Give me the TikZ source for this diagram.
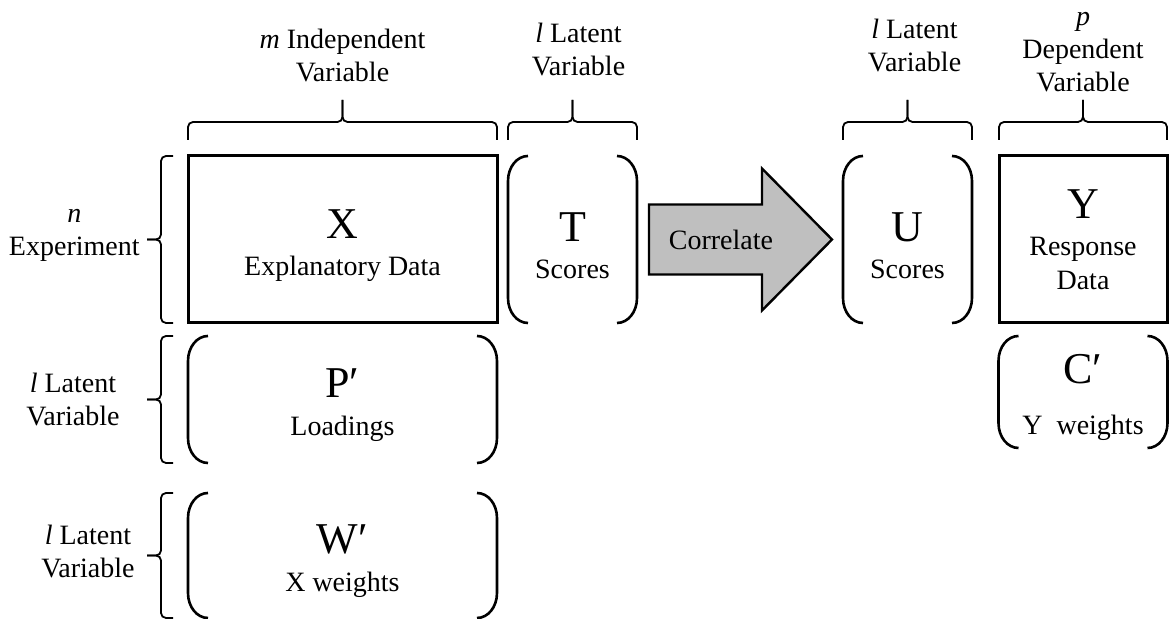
\documentclass[tikz,border=0pt]{standalone}
\usepackage{fontspec}
\setmainfont{Liberation Serif}
\usetikzlibrary{positioning}

\newcommand{\bigfont}{\fontsize{22}{24}\selectfont}
\newcommand{\bigsym}[1]{{\bigfont\rule{0pt}{20.5pt}#1}}

% brace above a block, tip named #2
\newcommand{\topbrace}[2]{%
  \coordinate (#1-bl) at ([yshift=8pt]#1.north west);
  \coordinate (#1-br) at ([yshift=8pt]#1.north east);
  \coordinate (#1-bm) at ([yshift=17pt]#1.north);
  \coordinate (#2) at ([yshift=28pt]#1.north);
  \draw[brc] (#1-bl) |- (#1-bm) -- (#2);
  \draw[brc] (#1-br) |- (#1-bm) -- (#2);
}
% brace left of a block, tip named #2
\newcommand{\leftbrace}[2]{%
  \coordinate (#1-lt) at ([xshift=-7.5pt]#1.north west);
  \coordinate (#1-lb) at ([xshift=-7.5pt]#1.south west);
  \coordinate (#1-lm) at ([xshift=-13.5pt]#1.west);
  \coordinate (#2) at ([xshift=-20.5pt]#1.west);
  \draw[brc] (#1-lt) -| (#1-lm) -- (#2);
  \draw[brc] (#1-lb) -| (#1-lm) -- (#2);
}
% round brackets round a block
\newcommand{\parens}[1]{%
  \draw[paren] ([xshift=10pt]#1.north west) .. controls +(-5.5pt,0) and +(0,7pt) .. ([yshift=-12.5pt]#1.north west)
    -- ([yshift=12.5pt]#1.south west) .. controls +(0,-7pt) and +(-5.5pt,0) .. ([xshift=10pt]#1.south west);
  \draw[paren] ([xshift=-10pt]#1.north east) .. controls +(5.5pt,0) and +(0,7pt) .. ([yshift=-12.5pt]#1.north east)
    -- ([yshift=12.5pt]#1.south east) .. controls +(0,-7pt) and +(5.5pt,0) .. ([xshift=-10pt]#1.south east);
}

\tikzset{
  lbl/.style={font=\fontsize{14}{16.5}\selectfont, align=center, inner sep=1pt},
  mat/.style={font=\fontsize{14}{16.5}\selectfont, align=center, inner sep=0pt, outer sep=0pt},
  solidmat/.style={mat, draw, line width=1.5pt},
  paren/.style={line width=1.3pt},
  brc/.style={line width=0.9pt, rounded corners=2.5pt},
  bigarrow/.style={draw, line width=1.2pt, fill=black!25, line join=miter},
}

\begin{document}
\begin{tikzpicture}[x=0.5pt, y=-0.5pt]
  \useasboundingbox (0,0) rectangle (1169,619);

  % blocks
  \node[solidmat, minimum width=154.5pt, minimum height=83.5pt] (X) at (342.5,239.5) {\bigsym{X}\\[2pt] Explanatory Data};
  \node[mat, minimum width=64.5pt, minimum height=83.5pt, right=5.5pt of X] (T) {\bigsym{T}\\[2pt] Scores};
  \node[mat, minimum width=64.5pt, minimum height=83.5pt, right=103pt of T] (U) {\bigsym{U}\\[2pt] Scores};
  \node[solidmat, minimum width=84pt, minimum height=83.5pt, right=13.5pt of U] (Y) {{\bigfont Y}\\[2pt] Response\\[0.5pt] Data};
  \node[mat, minimum width=154.5pt, minimum height=63.5pt, below=6.5pt of X] (P) {\bigsym{P′}\\[2.5pt] Loadings};
  \node[mat, minimum width=154.5pt, minimum height=62.5pt, below=15pt of P] (W) {\bigsym{W′}\\[2.5pt] X weights};
  \node[mat, minimum width=84.5pt, minimum height=56pt, below=6.5pt of Y] (C) {\bigsym{C′}\\[9pt] Y\ \ weights};

  \parens{T}
  \parens{U}
  \parens{P}
  \parens{W}
  \parens{C}

  % braces
  \topbrace{X}{tX}
  \topbrace{T}{tT}
  \topbrace{U}{tU}
  \topbrace{Y}{tY}
  \leftbrace{X}{tN}
  \leftbrace{P}{tP}
  \leftbrace{W}{tW}

  \node[lbl, above=8pt of tX] (lX) {\textit{m} Independent\\Variable};
  \node[lbl, above=11pt of tT, xshift=3pt] (lT) {\textit{l} Latent\\Variable};
  \node[lbl, above=13pt of tU, xshift=3.5pt] (lU) {\textit{l} Latent\\Variable};
  \node[lbl, above=3pt of tY] (lY) {\textit{p}\\Dependent\\Variable};
  \node[lbl, left=2.5pt of tN, yshift=2pt] (lN) {\textit{n}\\Experiment};
  \node[lbl, left=12.5pt of tP] (lP) {\textit{l} Latent\\Variable};
  \node[lbl, left=5pt of tW, yshift=2pt] (lW) {\textit{l} Latent\\Variable};

  % correlate arrow
  \coordinate[right=6pt of T] (a1);
  \coordinate[left=5.5pt of U] (a2);
  \draw[bigarrow] ([yshift=17.5pt]a1) -- ++(56.5pt,0) -- ++(0,18pt) -- (a2)
    -- ([xshift=56.5pt,yshift=-35.5pt]a1) -- ++(0,18pt) -- ([yshift=-17.5pt]a1) -- cycle;
  \node[lbl] (corr) at ([xshift=36pt]a1) {Correlate};
\end{tikzpicture}
\end{document}
